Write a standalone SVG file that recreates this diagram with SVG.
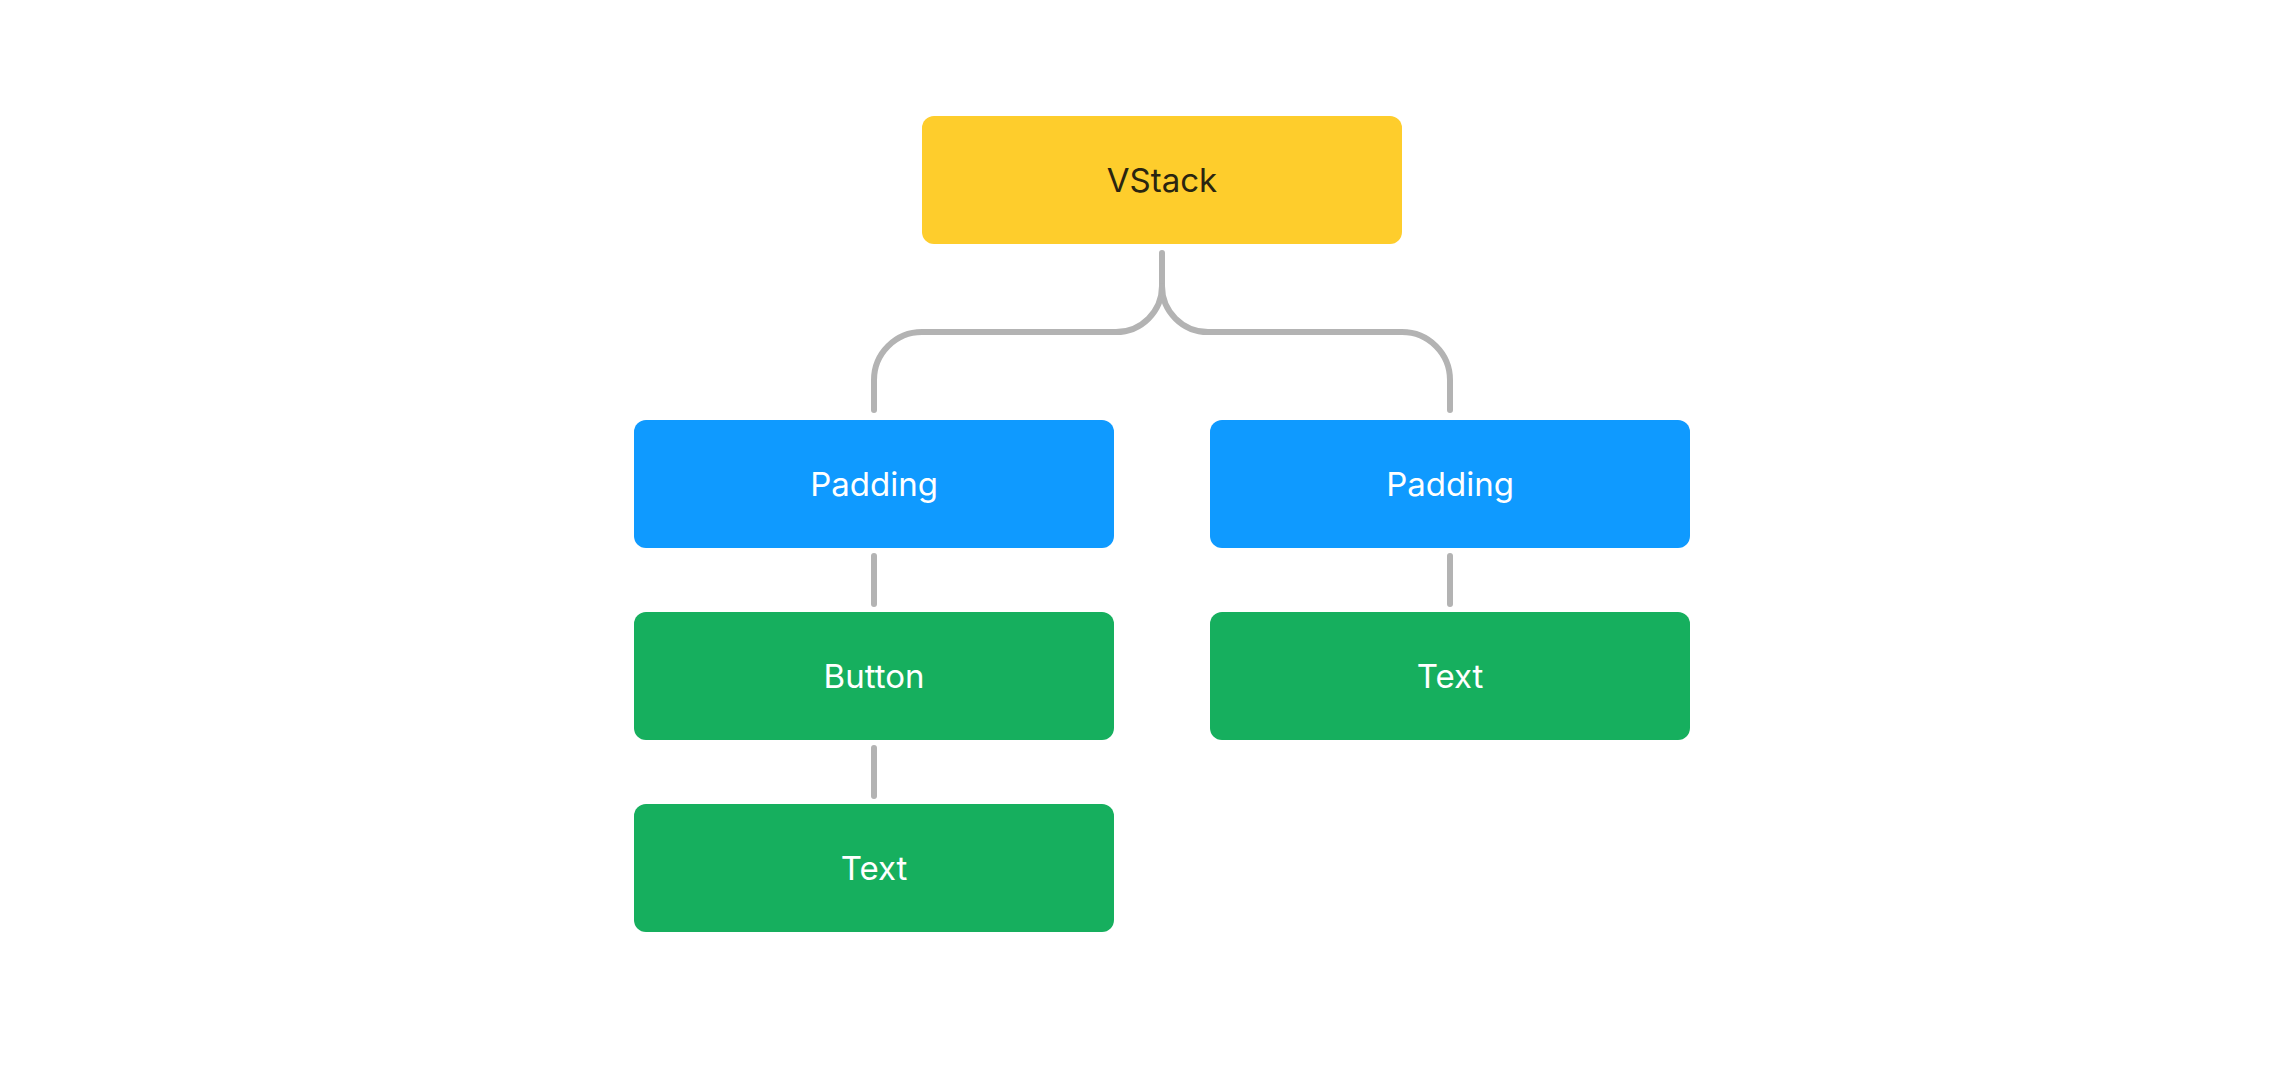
<svg xmlns="http://www.w3.org/2000/svg" width="2296" height="1076" viewBox="0 0 2296 1076">
<style>
.box{rx:12;ry:12}
.yellow{fill:#FECD2C}
.blue{fill:#0F9AFF}
.green{fill:#16AF5E}
.lbl{font-family:Inter,"Noto Sans","Liberation Sans",sans-serif;font-size:33px;text-anchor:middle}
.dark{fill:#2A2510}
.light{fill:#FFFFFF}
.conn{fill:none;stroke:#B3B3B3;stroke-width:6;stroke-linecap:round;stroke-linejoin:round}
</style>
<rect width="2296" height="1076" fill="#FFFFFF"/>
<g id="connectors">
<path class="conn" d="M1162,253 V286 A46,46 0 0 1 1116,332 H922 A48,48 0 0 0 874,380 V410"/>
<path class="conn" d="M1162,286 A46,46 0 0 0 1208,332 H1402 A48,48 0 0 1 1450,380 V410"/>
<line class="conn" x1="874" y1="556" x2="874" y2="604"/>
<line class="conn" x1="874" y1="748" x2="874" y2="796"/>
<line class="conn" x1="1450" y1="556" x2="1450" y2="604"/>
</g>
<g id="vstack">
<rect class="box yellow" x="922" y="116" width="480" height="128"/>
<text class="lbl dark" x="1162" y="192">VStack</text>
</g>
<g id="padding-left">
<rect class="box blue" x="634" y="420" width="480" height="128"/>
<text class="lbl light" x="874" y="496">Padding</text>
</g>
<g id="padding-right">
<rect class="box blue" x="1210" y="420" width="480" height="128"/>
<text class="lbl light" x="1450" y="496">Padding</text>
</g>
<g id="button">
<rect class="box green" x="634" y="612" width="480" height="128"/>
<text class="lbl light" x="874" y="688">Button</text>
</g>
<g id="text-left">
<rect class="box green" x="634" y="804" width="480" height="128"/>
<text class="lbl light" x="874" y="880">Text</text>
</g>
<g id="text-right">
<rect class="box green" x="1210" y="612" width="480" height="128"/>
<text class="lbl light" x="1450" y="688">Text</text>
</g>
</svg>
